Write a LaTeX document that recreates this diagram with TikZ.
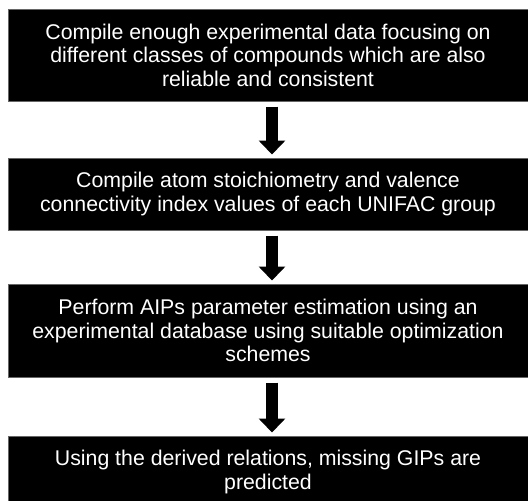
\documentclass[tikz,border=0pt]{standalone}
\usepackage{fontspec}
\setmainfont{Liberation Sans}
\usetikzlibrary{arrows.meta,calc}
\begin{document}
\begin{tikzpicture}[x=1pt,y=1pt,
  stepbox/.style={draw=black!60, line width=1pt, fill=black, text=white,
    minimum width=520pt, inner sep=0pt, align=center,
    font=\fontsize{21.3}{23.6}\selectfont},
  bigarrow/.style={line width=11.5pt, draw=black,
    -{Triangle[width=26pt,length=14pt]}, shorten <=5pt, shorten >=3pt}]
\useasboundingbox (0,0) rectangle (528,-501);
\node[stepbox, minimum height=92pt] (b1) at (268,-55)
  {Compile enough experimental data focusing on\\different classes of compounds which are also\\reliable and consistent};
\node[stepbox, minimum height=72pt] (b2) at (268,-194)
  {Compile atom stoichiometry and valence\\connectivity index values of each UNIFAC group};
\node[stepbox, minimum height=93pt] (b3) at (268,-330.5)
  {Perform AIPs parameter estimation using an\\experimental database using suitable optimization\\schemes};
\node[stepbox, minimum height=72pt] (b4) at (268,-472)
  {Using the derived relations, missing GIPs are\\predicted};
\draw[bigarrow] ($(b1.south)+(4,0)$) -- ($(b2.north)+(4,0)$);
\draw[bigarrow] ($(b2.south)+(4,0)$) -- ($(b3.north)+(4,0)$);
\draw[bigarrow] ($(b3.south)+(4,0)$) -- ($(b4.north)+(4,0)$);
\end{tikzpicture}
\end{document}
